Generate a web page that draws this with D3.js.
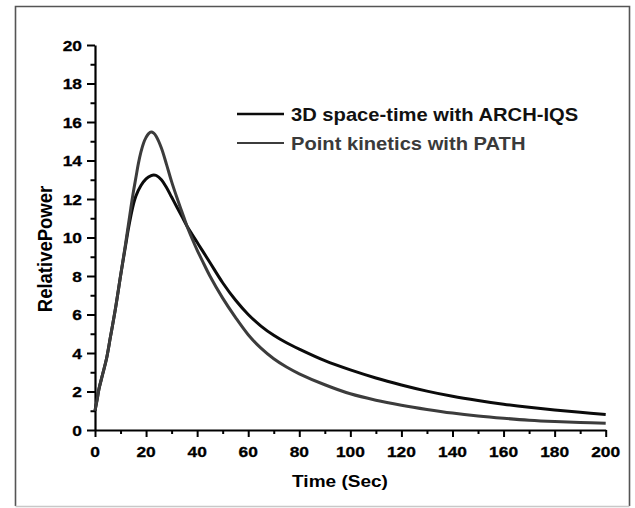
<!DOCTYPE html>
<html>
<head>
<meta charset="utf-8">
<script src="https://cdn.jsdelivr.net/npm/d3@7"></script>
<style>
html,body{margin:0;padding:0;background:#fff;}
text{font-family:"Liberation Sans",Arial,sans-serif;font-weight:bold;}
</style>
</head>
<body>
<svg id="chart" width="635" height="508"></svg>
<script>
// ---- data ----
const timeBlack = [0, 1, 1.5, 3, 4.5, 6, 8, 10, 12, 13, 14, 15, 16, 18, 20, 22, 23, 24, 26, 28, 30, 32, 34, 36, 38, 40, 42, 45, 50, 55, 60, 65, 70, 75, 80, 90, 100, 110, 120, 130, 140, 150, 160, 170, 180, 190, 200];
const power3D  = [1.0, 1.7, 2.1, 2.9, 3.7, 4.8, 6.3, 8.0, 9.6, 10.4, 11.1, 11.7, 12.15, 12.7, 13.05, 13.22, 13.25, 13.22, 13.0, 12.6, 12.1, 11.6, 11.1, 10.6, 10.17, 9.75, 9.33, 8.7, 7.65, 6.75, 6.0, 5.4, 4.92, 4.53, 4.2, 3.6, 3.12, 2.7, 2.34, 2.02, 1.75, 1.53, 1.34, 1.18, 1.04, 0.92, 0.81];

const timeGray = [0, 1, 1.5, 3, 4.5, 6, 8, 10, 12, 13, 14, 15, 16, 17, 18, 19, 20, 21, 22, 23, 24, 26, 28, 30, 32, 34, 36, 38, 40, 42, 45, 50, 55, 60, 65, 70, 75, 80, 90, 100, 110, 120, 130, 140, 150, 160, 170, 180, 190, 200];
const powerPK  = [1.0, 1.7, 2.1, 2.9, 3.7, 4.8, 6.3, 8.0, 9.7, 10.6, 11.5, 12.35, 13.1, 13.85, 14.45, 14.9, 15.2, 15.4, 15.48, 15.42, 15.25, 14.65, 13.8, 12.9, 12.1, 11.35, 10.6, 9.95, 9.35, 8.8, 8.0, 6.85, 5.85, 4.95, 4.25, 3.7, 3.27, 2.92, 2.35, 1.88, 1.55, 1.29, 1.07, 0.88, 0.73, 0.61, 0.51, 0.44, 0.39, 0.35];

const seriesNames = ["3D space-time with ARCH-IQS", "Point kinetics with PATH"];
const xTicks = [0, 20, 40, 60, 80, 100, 120, 140, 160, 180, 200];
const yTicks = [0, 2, 4, 6, 8, 10, 12, 14, 16, 18, 20];
const xLabel = "Time (Sec)";
const yLabel = "RelativePower";

// ---- layout ----
const svg = d3.select("#chart");
const SX = 1.12; // horizontal glyph stretch seen in reference
const x = d3.scaleLinear().domain([0, 200]).range([95, 605.7]);
const y = d3.scaleLinear().domain([0, 20]).range([430, 45]);

// frame
svg.append("path").attr("d", "M15.5,506 L15.5,6.5 L629.5,6.5 L629.5,506")
  .attr("fill", "none").attr("stroke", "#555").attr("stroke-width", 1.6);
svg.append("line").attr("x1", 15.5).attr("x2", 629.5).attr("y1", 506.5).attr("y2", 506.5)
  .attr("stroke", "#c8c8c8").attr("stroke-width", 1.4);

// minor ticks
const xMinor = d3.range(10, 200, 20);
const yMinor = d3.range(1, 20, 2);
const gxm = svg.append("g").attr("transform", "translate(0,430)")
  .call(d3.axisBottom(x).tickValues(xMinor).tickSize(4).tickFormat(""));
const gym = svg.append("g").attr("transform", "translate(95,0)")
  .call(d3.axisLeft(y).tickValues(yMinor).tickSize(4.5).tickFormat(""));
[gxm, gym].forEach(g => { g.select(".domain").remove(); g.selectAll("line").attr("stroke", "#000").attr("stroke-width", 2); });

// major axes
const gx = svg.append("g").attr("transform", "translate(0,430)")
  .call(d3.axisBottom(x).tickValues(xTicks).tickSize(7).tickSizeOuter(0).tickFormat(""));
const gy = svg.append("g").attr("transform", "translate(95,0)")
  .call(d3.axisLeft(y).tickValues(yTicks).tickSize(8).tickSizeOuter(0).tickFormat(""));
[gx, gy].forEach(g => {
  g.select(".domain").attr("stroke", "#000").attr("stroke-width", 2.2);
  g.selectAll("line").attr("stroke", "#000").attr("stroke-width", 2);
});

// tick labels
svg.append("g").selectAll("text").data(xTicks).join("text")
  .attr("transform", d => `translate(${x(d)},456.5) scale(${SX},1)`)
  .attr("text-anchor", "middle").attr("font-size", 15.5).attr("fill", "#000")
  .attr("stroke", "#000").attr("stroke-width", 0.3)
  .text(d => d);
svg.append("g").selectAll("text").data(yTicks).join("text")
  .attr("transform", d => `translate(82,${y(d) + 5.5}) scale(${SX},1)`)
  .attr("text-anchor", "end").attr("font-size", 15.5).attr("fill", "#000")
  .attr("stroke", "#000").attr("stroke-width", 0.3)
  .text(d => d);

// axis titles
svg.append("text").attr("transform", `translate(340,486.5) scale(${SX},1)`)
  .attr("text-anchor", "middle").attr("font-size", 17).attr("fill", "#000").text(xLabel);
svg.append("text").attr("transform", `translate(51.5,249) scale(${SX},1) rotate(-90)`)
  .attr("text-anchor", "middle").attr("font-size", 18.5).attr("fill", "#000").text(yLabel);

// curves
const line = d3.line().x(d => x(d[0])).y(d => y(d[1])).curve(d3.curveCatmullRom.alpha(0.5));
const colors = ["#0b0b0b", "#3c3c3c"];
svg.append("path").datum(d3.zip(timeBlack, power3D)).attr("d", line)
  .attr("fill", "none").attr("stroke", colors[0]).attr("stroke-width", 3);
svg.append("path").datum(d3.zip(timeGray, powerPK)).attr("d", line)
  .attr("fill", "none").attr("stroke", colors[1]).attr("stroke-width", 3);

// legend
const legY = [114, 143];
seriesNames.forEach((name, i) => {
  svg.append("line").attr("x1", 237).attr("x2", 284).attr("y1", legY[i]).attr("y2", legY[i])
    .attr("stroke", colors[i]).attr("stroke-width", i === 0 ? 2.6 : 2.2);
  svg.append("text").attr("transform", `translate(291,${legY[i] + 6.5}) scale(${SX},1)`)
    .attr("font-size", 18).attr("fill", i === 0 ? "#111" : "#3a3a3a").text(name);
});
</script>
</body>
</html>
